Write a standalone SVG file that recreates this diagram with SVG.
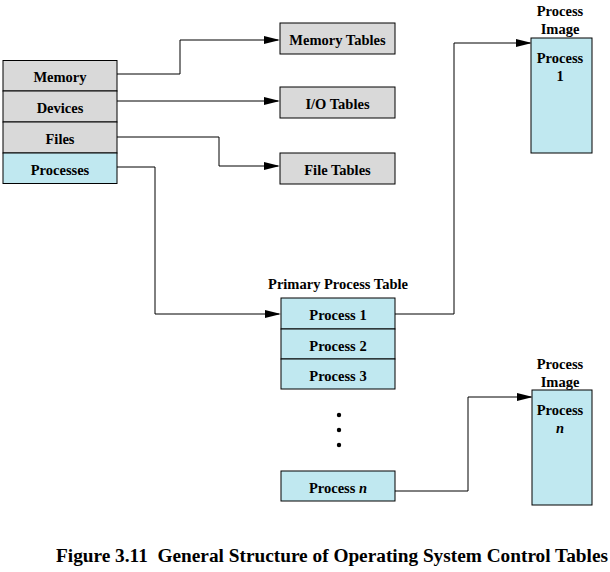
<svg xmlns="http://www.w3.org/2000/svg" width="610" height="572" viewBox="0 0 610 572">
<style>
text{font-family:"Liberation Serif","Times New Roman",serif;font-weight:bold;font-size:14.5px;fill:#000;text-anchor:middle}
.g{fill:#d9d9d9;stroke:#000;stroke-width:1}
.b{fill:#c0e8f0;stroke:#000;stroke-width:1}
.c{fill:none;stroke:#000;stroke-width:1}
.cap{font-size:18px;text-anchor:start;white-space:pre}
</style>
<defs>
<marker id="ah" markerWidth="16" markerHeight="10" refX="14" refY="4" orient="auto" markerUnits="userSpaceOnUse">
<path d="M0,0 L16,4 L0,8 Z" fill="#000"/>
</marker>
</defs>
<rect width="610" height="572" fill="#fff"/>
<g id="connectors">
<polyline class="c" points="117,74 180,74 180,40 278,40" marker-end="url(#ah)"/>
<polyline class="c" points="117,101 278,101" marker-end="url(#ah)"/>
<polyline class="c" points="117,137 219,137 219,166 278,166" marker-end="url(#ah)"/>
<polyline class="c" points="117,167 155,167 155,314 279,314" marker-end="url(#ah)"/>
<polyline class="c" points="395,314 454,314 454,43 530,43" marker-end="url(#ah)"/>
<polyline class="c" points="395,491 468,491 468,397 531,397" marker-end="url(#ah)"/>
</g>
<g id="resource-table">
<g id="memory"><rect class="g" x="3" y="60.5" width="114" height="30.5"/><text x="60" y="82">Memory</text></g>
<g id="devices"><rect class="g" x="3" y="91" width="114" height="31"/><text x="60" y="113">Devices</text></g>
<g id="files"><rect class="g" x="3" y="122" width="114" height="31"/><text x="60" y="144">Files</text></g>
<g id="processes"><rect class="b" x="3" y="153" width="114" height="30.5"/><text x="60" y="175">Processes</text></g>
</g>
<g id="memory-tables"><rect class="g" x="280" y="23" width="115" height="31"/><text x="337.5" y="45">Memory Tables</text></g>
<g id="io-tables"><rect class="g" x="280" y="87" width="115" height="31"/><text x="337.5" y="109">I/O Tables</text></g>
<g id="file-tables"><rect class="g" x="280" y="153" width="115" height="31"/><text x="337.5" y="175">File Tables</text></g>
<g id="primary-process-table">
<text x="338" y="289">Primary Process Table</text>
<g id="pt-process1"><rect class="b" x="281" y="298" width="114" height="31"/><text x="338" y="320">Process 1</text></g>
<g id="pt-process2"><rect class="b" x="281" y="329" width="114" height="30"/><text x="338" y="351">Process 2</text></g>
<g id="pt-process3"><rect class="b" x="281" y="359" width="114" height="30"/><text x="338" y="381">Process 3</text></g>
<g id="dots"><circle cx="339" cy="415" r="2.2"/><circle cx="339" cy="430" r="2.2"/><circle cx="339" cy="445" r="2.2"/></g>
<g id="pt-processn"><rect class="b" x="281" y="471" width="114" height="30"/><text x="338" y="493">Process <tspan font-style="italic">n</tspan></text></g>
</g>
<g id="process-image-1">
<text x="560" y="16">Process</text><text x="560" y="34">Image</text>
<rect class="b" x="531" y="38" width="61" height="115"/>
<text x="560" y="63">Process</text><text x="560" y="81">1</text>
</g>
<g id="process-image-n">
<text x="560" y="369">Process</text><text x="560" y="387">Image</text>
<rect class="b" x="532" y="390" width="60" height="115"/>
<text x="560" y="415">Process</text><text x="560" y="433" font-style="italic">n</text>
</g>
<g id="caption"><text class="cap" x="56" y="562" xml:space="preserve" textLength="552" lengthAdjust="spacingAndGlyphs">Figure 3.11  General Structure of Operating System Control Tables</text></g>
</svg>
